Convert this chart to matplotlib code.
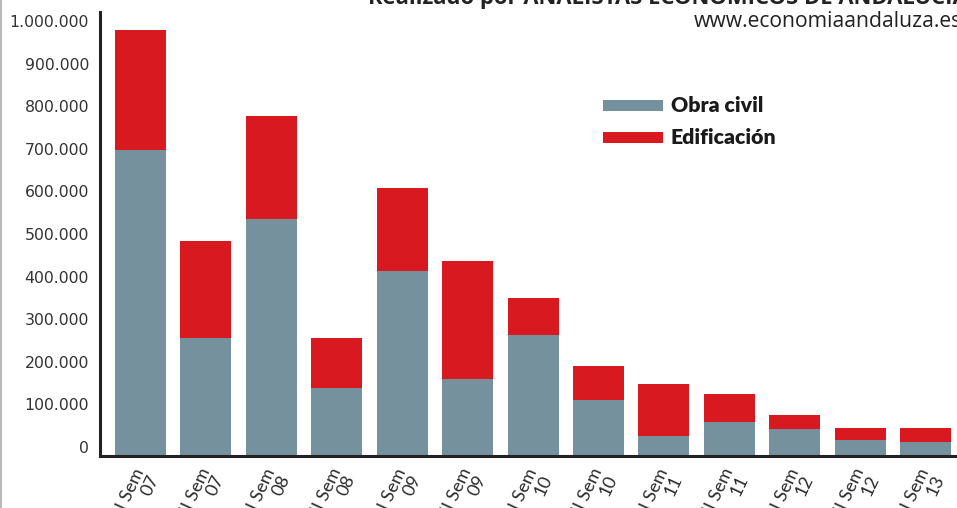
import matplotlib
matplotlib.use("Agg")
import matplotlib.pyplot as plt
from matplotlib.patches import Rectangle
from matplotlib.lines import Line2D
import matplotlib.transforms as mtransforms

# ---- data ----
categories = ["I Sem\n07", "II Sem\n07", "I Sem\n08", "II Sem\n08", "I Sem\n09",
              "II Sem\n09", "I Sem\n10", "II Sem\n10", "I Sem\n11", "II Sem\n11",
              "I Sem\n12", "II Sem\n12", "I Sem\n13"]
obra_civil = [697000, 256000, 535000, 138000, 413000, 160000, 263000,
              110000, 26000, 59000, 42000, 16000, 12000]
edificacion = [282000, 227000, 242000, 118000, 195000, 277000, 87000,
               80000, 122000, 65000, 33000, 29000, 33000]
y_ticks = [0, 100000, 200000, 300000, 400000, 500000, 600000, 700000,
           800000, 900000, 1000000]
series_names = ["Obra civil", "Edificación"]
title_text = "Realizado por ANALISTAS ECONÓMICOS DE ANDALUCÍA"
url_text = "www.economiaandaluza.es"

GRAY = "#75919e"
RED = "#d91920"
W, H = 957, 508

fig = plt.figure(figsize=(W / 100, H / 100), dpi=100)
fig.patch.set_facecolor("white")

# axes placement (pixels -> figure fraction)
ax_l, ax_r, ax_t, ax_b = 100, 957, 12, 456
ax = fig.add_axes([ax_l / W, (H - ax_b) / H, (ax_r - ax_l) / W, (ax_b - ax_t) / H])

Y_MIN, Y_MAX = -21000, 1021000
ax.set_ylim(Y_MIN, Y_MAX)
ax.set_xlim(-0.62, 12.48)

x = list(range(len(categories)))
bar_w = 0.78
# bars rise from the axis line
ax.bar(x, [v - Y_MIN for v in obra_civil], bottom=Y_MIN, width=bar_w,
       color=GRAY, label=series_names[0], zorder=2)
ax.bar(x, edificacion, bottom=obra_civil, width=bar_w,
       color=RED, label=series_names[1], zorder=2)

# spines
for s in ["top", "right"]:
    ax.spines[s].set_visible(False)
for s in ["left", "bottom"]:
    ax.spines[s].set_linewidth(2.2)
    ax.spines[s].set_color("#222222")
    ax.spines[s].set_zorder(3)

# y ticks
ax.set_yticks(y_ticks)
ax.set_yticklabels([f"{v:,}".replace(",", ".") for v in y_ticks])
ax.tick_params(axis="y", length=0, pad=8, labelsize=11.3, labelcolor="#333333")
for lab in ax.get_yticklabels():
    lab.set_family(["DejaVu Sans"])

# x ticks
ax.set_xticks(x)
ax.set_xticklabels(categories)
ax.tick_params(axis="x", length=0, pad=12)
offset = mtransforms.ScaledTranslation(7 / 100, 0, fig.dpi_scale_trans)
for lab in ax.get_xticklabels():
    lab.set_rotation(65)
    lab.set_rotation_mode("anchor")
    lab.set_ha("right")
    lab.set_va("center")
    lab.set_multialignment("right")
    lab.set_fontsize(13)
    lab.set_color("#2a2a2a")
    lab.set_family(["Lato", "DejaVu Sans"])
    lab.set_linespacing(1.0)
    lab.set_transform(lab.get_transform() + offset)

# legend (manual placement)
def px2fig(px, py):
    return px / W, (H - py) / H

for (y0, col, name) in [(100, GRAY, series_names[0]), (132, RED, series_names[1])]:
    fx, fy = px2fig(603, y0 + 11)
    fig.add_artist(Rectangle((fx, fy), 60 / W, 11 / H, transform=fig.transFigure,
                             facecolor=col, edgecolor="none"))
    tx, ty = px2fig(671, y0 + 5.5)
    fig.text(tx, ty, name, ha="left", va="center", fontsize=15.3, fontweight="heavy",
             color="#1a1a1a", family=["Lato", "DejaVu Sans"])

# header texts
tx, ty = px2fig(368, 4)
fig.text(tx, ty, title_text, ha="left", va="baseline", fontsize=15.8, fontweight="bold",
         color="#222222", family=["Open Sans", "DejaVu Sans"])
tx, ty = px2fig(694, 27)
fig.text(tx, ty, url_text, ha="left", va="baseline", fontsize=15.2,
         color="#222222", family=["Open Sans", "DejaVu Sans"])

# thin gray border at left edge
fig.add_artist(Line2D([0.6 / W, 0.6 / W], [0, 1], transform=fig.transFigure,
                      color="#aaaaaa", linewidth=1.2))

fig.savefig("out.png", dpi=100, facecolor="white")
